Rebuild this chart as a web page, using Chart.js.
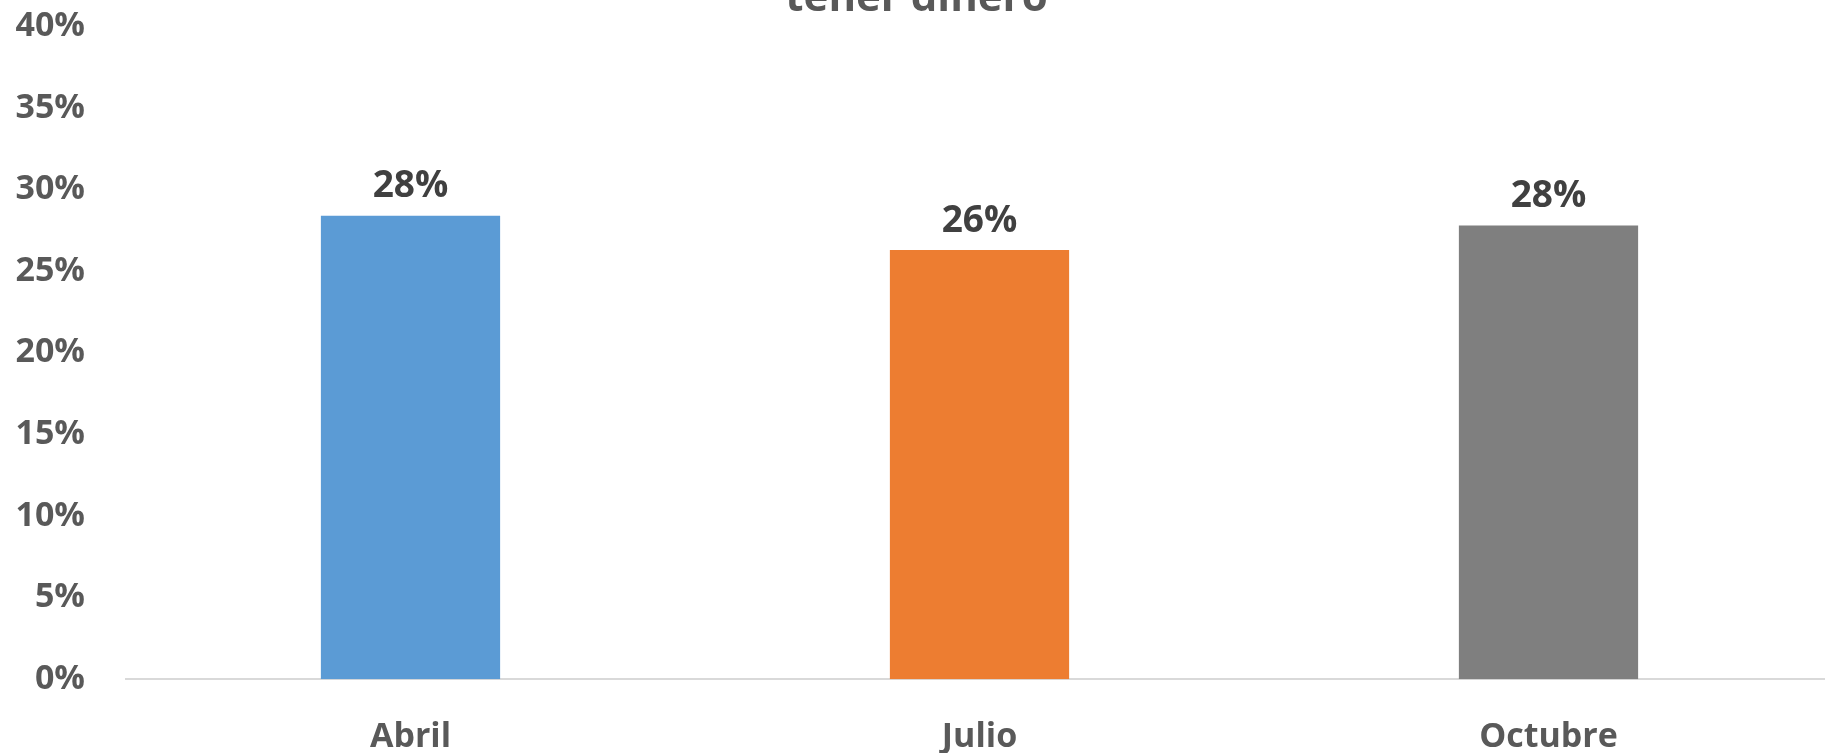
<!DOCTYPE html>
<html>
<head>
<meta charset="utf-8">
<script src="https://cdn.jsdelivr.net/npm/chart.js@4"></script>
<style>
  html, body { margin: 0; padding: 0; background: #fff; overflow: hidden; }
  #wrap { position: absolute; left: 0; top: -35px; width: 1833px; height: 831px; }
</style>
</head>
<body>
<div id="wrap"><canvas id="chart"></canvas></div>
<script>
const months = ["Abril", "Julio", "Octubre"];
const values = [28.4, 26.3, 27.8];
const valueLabels = ["28%", "26%", "28%"];
const barColors = ["#5B9BD5", "#ED7D31", "#7F7F7F"];
const titleLines = ["tener dinero"];

const FONT = "'Open Sans', 'Noto Sans', sans-serif";

// draws the value above each bar
const barValuePlugin = {
  id: "barValues",
  afterDatasetsDraw(chart) {
    const ctx = chart.ctx;
    const meta = chart.getDatasetMeta(0);
    ctx.save();
    ctx.font = "bold 37px " + FONT;
    ctx.fillStyle = "#404040";
    ctx.textAlign = "center";
    ctx.textBaseline = "middle";
    meta.data.forEach((bar, i) => {
      ctx.fillText(valueLabels[i], bar.x, bar.y - 29);
    });
    ctx.restore();
  }
};

new Chart(document.getElementById("chart"), {
  type: "bar",
  data: {
    labels: months,
    datasets: [{
      data: values,
      backgroundColor: barColors,
      categoryPercentage: 1,
      barPercentage: 0.315
    }]
  },
  plugins: [barValuePlugin],
  options: {
    responsive: true,
    maintainAspectRatio: false,
    animation: false,
    layout: { padding: { left: 0, right: 0, top: 0, bottom: 0 } },
    plugins: {
      legend: { display: false },
      tooltip: { enabled: false },
      title: {
        display: true,
        text: titleLines,
        color: "#595959",
        font: { family: FONT, size: 42, weight: "bold" },
        padding: { top: 0, bottom: 2 }
      }
    },
    scales: {
      x: {
        grid: { display: false, drawTicks: false },
        border: { display: true, color: "#D9D9D9", width: 2 },
        ticks: {
          color: "#595959",
          font: { family: FONT, size: 34, weight: "bold" },
          padding: 38
        }
      },
      y: {
        min: 0,
        max: 40,
        grid: { display: false, drawTicks: false },
        border: { display: false },
        ticks: {
          stepSize: 5,
          color: "#595959",
          font: { family: FONT, size: 34, weight: "bold" },
          padding: 41,
          callback: v => v + "%"
        },
        afterFit: scale => { scale.width = 126; }
      }
    }
  }
});
</script>
</body>
</html>
